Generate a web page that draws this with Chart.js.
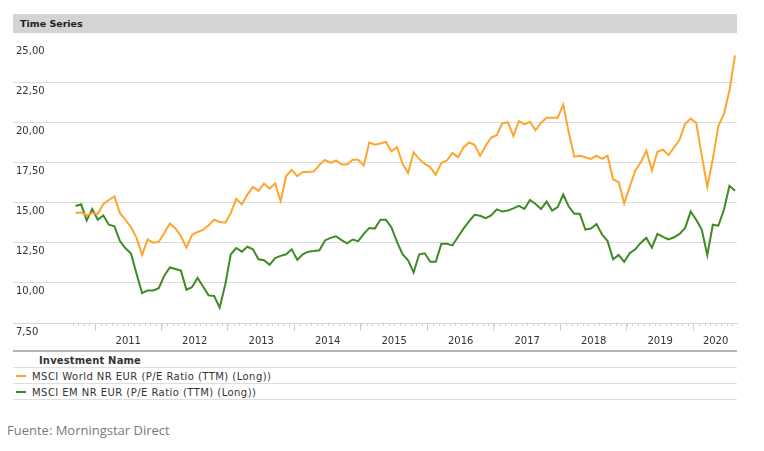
<!DOCTYPE html>
<html>
<head>
<meta charset="utf-8">
<script src="https://cdn.jsdelivr.net/npm/chart.js@4.4.1/dist/chart.umd.min.js"></script>
<style>
  html, body { margin: 0; padding: 0; background: #fff; }
  #page { position: relative; width: 764px; height: 451px; overflow: hidden; font-family: "DejaVu Sans", Verdana, sans-serif; }
  #head { position: absolute; left: 13px; top: 14px; width: 724px; height: 19px; background: #d4d4d4; box-sizing: border-box;
          padding-left: 7px; font-size: 9.5px; font-weight: bold; color: #222; line-height: 19px; }
  #wrap { position: absolute; left: 0; top: 33px; width: 764px; height: 318px; }
  #axisline { position: absolute; left: 13px; top: 350px; width: 724px; height: 2px; background: #b4b4b4; }
  .rule { position: absolute; left: 13px; width: 724px; height: 1px; background: #dedede; }
  .txt { position: absolute; font-size: 10px; color: #333; line-height: 14px; white-space: nowrap; }
  .lg { letter-spacing: 0.45px; }
  .sw { position: absolute; left: 16px; width: 10px; height: 2px; }
  #src { position: absolute; left: 7px; top: 421px; font-family: "Open Sans", sans-serif; font-size: 13px; color: #7a7a7a; }
</style>
</head>
<body>
<div id="page">
  <div id="head">Time Series</div>
  <div id="wrap"><canvas id="pe" width="764" height="318"></canvas></div>
  <div id="axisline"></div>
  <div class="txt" style="left:39px; top:354px; font-weight:bold; letter-spacing:0.15px;">Investment Name</div>
  <div class="rule" style="top:367px"></div>
  <div class="sw" style="top:375px; background:#ffa42c"></div>
  <div class="txt lg" id="lg0" style="left:32px; top:370px;"></div>
  <div class="rule" style="top:383px"></div>
  <div class="sw" style="top:391px; background:#3f8a24"></div>
  <div class="txt lg" id="lg1" style="left:32px; top:386px;"></div>
  <div class="rule" style="top:399px"></div>
  <div id="src">Fuente: Morningstar Direct</div>
</div>
<script>
// monthly P/E, Sep 2010 .. Aug 2020 (index 0 = Sep 2010)
const seriesNames = ["MSCI World NR EUR (P/E Ratio (TTM) (Long))", "MSCI EM NR EUR (P/E Ratio (TTM) (Long))"];
const yearLabels = ["2011", "2012", "2013", "2014", "2015", "2016", "2017", "2018", "2019", "2020"];
const yTicks = [7.5, 10, 12.5, 15, 17.5, 20, 22.5, 25];

const world = [
  14.34, 14.40, 14.20, 14.34, 14.30, 14.90, 15.16, 15.38, 14.34, 13.93,
  13.46, 12.80, 11.74, 12.70, 12.50, 12.55, 13.10, 13.70, 13.40, 12.90,
  12.19, 12.97, 13.17, 13.30, 13.58, 13.93, 13.79, 13.75, 14.34, 15.24,
  14.89, 15.50, 15.98, 15.73, 16.18, 15.87, 16.18, 15.10, 16.65, 17.04,
  16.65, 16.90, 16.90, 16.94, 17.35, 17.66, 17.47, 17.62, 17.37, 17.37,
  17.66, 17.66, 17.31, 18.74, 18.60, 18.68, 18.78, 18.20, 18.45, 17.41,
  16.84, 18.13, 17.72, 17.41, 17.21, 16.73, 17.47, 17.62, 18.09, 17.82,
  18.43, 18.74, 18.60, 17.92, 18.54, 19.05, 19.19, 19.93, 20.01, 19.15,
  20.07, 19.87, 20.03, 19.50, 19.97, 20.28, 20.28, 20.28, 21.10, 19.36,
  17.86, 17.92, 17.82, 17.72, 17.92, 17.72, 17.92, 16.45, 16.28, 14.95,
  15.98, 17.00, 17.51, 18.23, 17.00, 18.17, 18.29, 17.96, 18.43, 18.91,
  19.91, 20.23, 19.97, 17.92, 15.98, 17.72, 19.77, 20.52, 21.98, 24.17
];

const em = [
  14.79, 14.89, 13.89, 14.60, 13.93, 14.20, 13.62, 13.52, 12.60, 12.15,
  11.82, 10.55, 9.36, 9.53, 9.53, 9.67, 10.45, 10.96, 10.86, 10.76,
  9.57, 9.73, 10.31, 9.77, 9.22, 9.18, 8.46, 9.88, 11.78, 12.17,
  11.94, 12.25, 12.09, 11.47, 11.41, 11.12, 11.54, 11.68, 11.78, 12.09,
  11.43, 11.78, 11.94, 11.98, 12.03, 12.64, 12.80, 12.90, 12.66, 12.46,
  12.70, 12.60, 13.05, 13.42, 13.38, 13.93, 13.93, 13.45, 12.55, 11.78,
  11.41, 10.65, 11.78, 11.84, 11.31, 11.31, 12.43, 12.43, 12.33, 12.86,
  13.38, 13.83, 14.24, 14.18, 14.03, 14.20, 14.58, 14.44, 14.50, 14.64,
  14.79, 14.60, 15.16, 14.91, 14.60, 15.06, 14.50, 14.72, 15.50, 14.75,
  14.30, 14.30, 13.32, 13.38, 13.66, 13.01, 12.60, 11.47, 11.74, 11.31,
  11.84, 12.09, 12.50, 12.80, 12.19, 13.05, 12.86, 12.70, 12.84, 13.05,
  13.42, 14.44, 13.93, 13.32, 11.72, 13.62, 13.56, 14.55, 16.04, 15.73
];

const colors = ["#ffa42c", "#3f8a24"];
document.getElementById("lg0").textContent = seriesNames[0];
document.getElementById("lg1").textContent = seriesNames[1];

// x axis in month index; Jan 2011 boundary sits at 3.5
const firstEdge = -0.5, lastEdge = world.length - 0.5;
const yearEdges = yearLabels.map((y, k) => 3.5 + 12 * k);
const yearCenters = yearEdges.map((s, k) => {
  const a = Math.max(s, firstEdge), b = Math.min(s + 12, lastEdge);
  return (a + b) / 2;
});

const fmt = v => v.toFixed(2).replace(".", ",");

const monthTicks = {
  id: "monthTicks",
  afterDraw(chart) {
    const sx = chart.scales.x, bottom = chart.chartArea.bottom, ctx = chart.ctx;
    ctx.save();
    ctx.strokeStyle = "#cfcfcf";
    ctx.lineWidth = 1;
    ctx.beginPath();
    for (let v = firstEdge; v <= lastEdge; v++) {
      if (v > sx.max) break;
      const px = Math.round(sx.getPixelForValue(v)) + 0.5;
      ctx.moveTo(px, bottom);
      ctx.lineTo(px, bottom + 3);
    }
    ctx.stroke();
    ctx.restore();
  }
};

new Chart(document.getElementById("pe"), {
  type: "line",
  data: {
    datasets: [
      { label: seriesNames[0], data: world.map((v, i) => ({ x: i, y: v })), borderColor: colors[0], borderWidth: 2, pointRadius: 0, tension: 0 },
      { label: seriesNames[1], data: em.map((v, i) => ({ x: i, y: v })), borderColor: colors[1], borderWidth: 2, pointRadius: 0, tension: 0 }
    ]
  },
  options: {
    responsive: false,
    animation: false,
    layout: { autoPadding: false, padding: { left: 13, right: 27, top: 5, bottom: 0 } },
    plugins: { legend: { display: false }, tooltip: { enabled: false } },
    scales: {
      x: {
        type: "linear",
        min: -11.3,
        max: 119.36,
        afterBuildTicks(scale) {
          const t = [];
          for (let v = firstEdge; v <= scale.max; v++) t.push({ value: v });
          scale.ticks = t;
        },
        afterFit(scale) { scale.height = 28; },
        border: { display: true, color: "#d6d6d6", width: 1 },
        grid: {
          drawOnChartArea: false,
          drawTicks: true,
          tickLength: 8,
          tickColor: ctx => (ctx.tick && yearEdges.includes(ctx.tick.value)) ? "#cfcfcf" : "rgba(0,0,0,0)"
        },
        ticks: {
          autoSkip: false,
          maxRotation: 0,
          padding: 4,
          color: "#333",
          font: { family: "DejaVu Sans", size: 10 },
          callback: v => {
            const k = yearCenters.indexOf(v);
            return k >= 0 ? yearLabels[k] : "";
          }
        }
      },
      y: {
        min: 7.5,
        max: 25,
        afterBuildTicks(scale) { scale.ticks = yTicks.map(v => ({ value: v })); },
        afterFit(scale) { scale.width = 0; },
        border: { display: false },
        grid: {
          drawTicks: false,
          color: ctx => (ctx.tick && ctx.tick.value === 25) ? "rgba(0,0,0,0)" : "#dcdcdc"
        },
        ticks: {
          mirror: true,
          padding: 3,
          labelOffset: 9,
          color: "#333",
          font: { family: "DejaVu Sans", size: 10 },
          callback: v => fmt(v)
        }
      }
    }
  },
  plugins: [monthTicks]
});
</script>
</body>
</html>
